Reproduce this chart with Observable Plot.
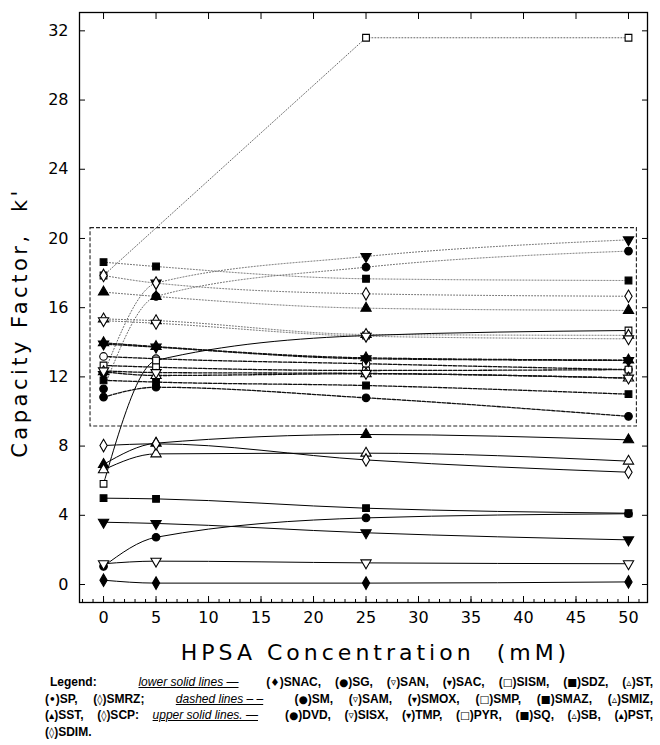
<!DOCTYPE html>
<html><head><meta charset="utf-8">
<script src="https://cdn.jsdelivr.net/npm/d3@7"></script>
<script src="https://cdn.jsdelivr.net/npm/@observablehq/plot@0.6"></script>
<style>
body{margin:0;background:#fff;width:660px;height:745px;overflow:hidden;position:relative;font-family:"DejaVu Sans",sans-serif}
#chart{position:absolute;left:0;top:0}
#legend{position:absolute;left:45px;top:674px;width:608px;font-family:"Liberation Sans","DejaVu Sans",Arial,sans-serif;font-weight:bold;font-size:12px;line-height:16.6px;color:#000}
#legend .j{text-align:justify;text-align-last:justify;text-justify:inter-word;white-space:nowrap}
#legend .u{display:inline-block;font-style:italic;font-weight:normal;text-decoration:underline}
#legend .p{display:inline-block}
#legend .s{font-family:"DejaVu Sans",sans-serif;font-weight:bold;font-size:10.5px}
</style></head><body>
<div id="chart"></div>
<div id="legend">
<div class="j" style="padding-left:5px">Legend:&nbsp;&nbsp; <span class="u">lower solid lines —</span>&nbsp; <span class="p">(<span class="s">♦</span>)SNAC,</span> <span class="p">(<span class="s">●</span>)SG,</span> <span class="p">(<span class="s">▿</span>)SAN,</span> <span class="p">(<span class="s">▾</span>)SAC,</span> <span class="p">(<span class="s">□</span>)SISM,</span> <span class="p">(<span class="s">■</span>)SDZ,</span> <span class="p">(<span class="s">▵</span>)ST,</span></div>
<div class="j"><span class="p">(<span class="s">•</span>)SP,</span> <span class="p">(<span class="s">◊</span>)SMRZ;</span>&nbsp; <span class="u">dashed lines – –</span>&nbsp; <span class="p">(<span class="s">●</span>)SM,</span> <span class="p">(<span class="s">▿</span>)SAM,</span> <span class="p">(<span class="s">▾</span>)SMOX,</span> <span class="p">(<span class="s">□</span>)SMP,</span> <span class="p">(<span class="s">■</span>)SMAZ,</span> <span class="p">(<span class="s">▵</span>)SMIZ,</span></div>
<div class="j"><span class="p">(<span class="s">▴</span>)SST,</span> <span class="p">(<span class="s">◊</span>)SCP:</span> <span class="u">upper solid lines. —</span>&nbsp; <span class="p">(<span class="s">●</span>)DVD,</span> <span class="p">(<span class="s">▿</span>)SISX,</span> <span class="p">(<span class="s">▾</span>)TMP,</span> <span class="p">(<span class="s">□</span>)PYR,</span> <span class="p">(<span class="s">■</span>)SQ,</span> <span class="p">(<span class="s">▵</span>)SB,</span> <span class="p">(<span class="s">▴</span>)PST,</span></div>
<div><span class="p">(<span class="s">◊</span>)SDIM.</span></div>
</div>
<script>
// ---------- data ----------
const conc = [0, 5, 25, 50];
const xTicks = [0, 5, 10, 15, 20, 25, 30, 35, 40, 45, 50];
const xMinorTicks = d3.range(-2, 52, 1);
const yTicks = [0, 4, 8, 12, 16, 20, 24, 28, 32];
const xLabel = "HPSA Concentration  (mM)";
const yLabel = "Capacity Factor,  k'";
const boxConc = [-1.24, 50.8];
const boxK = [9.13, 20.6];

// lower solid lines
const lowerNames   = ["SNAC", "SG", "SAN", "SAC", "SISM", "SDZ", "ST", "SP", "SMRZ"];
const lowerMarkers = ["◆", "●", "▽", "▼", "□", "■", "△", "▲", "◇"];
const lowerK = [
  [0.25, 0.08, 0.08, 0.15],
  [1.05, 2.73, 3.85, 4.09],
  [1.2, 1.35, 1.25, 1.2],
  [3.6, 3.53, 2.99, 2.58],
  [5.82, 12.95, 14.39, 14.68],
  [4.99, 4.95, 4.41, 4.12],
  [6.63, 7.55, 7.59, 7.13],
  [6.94, 8.17, 8.67, 8.36],
  [8.03, 8.13, 7.2, 6.49]
];

// dashed lines
const dashedNames   = ["SM", "SAM", "SMOX", "SMP", "SMAZ", "SMIZ", "SST", "SCP"];
const dashedMarkers = ["●", "▽", "▼", "□", "■", "△", "▲", "○"];
const dashedK = [
  [10.83, 11.4, 10.79, 9.72],
  [12.35, 12.25, 12.2, 11.93],
  [13.9, 13.72, 13.05, 12.95],
  [12.66, 12.56, 12.37, 12.42],
  [11.8, 11.7, 11.5, 11.0],
  [12.3, 12.08, 12.18, 11.93],
  [13.97, 13.75, 13.1, 12.97],
  [13.18, 13.05, 12.76, 12.42]
];

// upper lines
const upperNames   = ["DVD", "SISX", "TMP", "PYR", "SQ", "SB", "PST", "SDIM"];
const upperMarkers = ["●", "▽", "▼", "□", "■", "△", "▲", "◇"];
const upperK = [
  [11.31, 16.65, 18.34, 19.27],
  [15.25, 15.1, 14.35, 14.2],
  [12.14, 17.42, 18.96, 19.92],
  [17.86, null, 31.6, 31.6],
  [18.63, 18.38, 17.67, 17.57],
  [15.35, 15.25, 14.45, 14.4],
  [16.9, 16.65, 15.97, 15.84],
  [17.86, 17.42, 16.8, 16.66]
];
const straightSeries = ["PYR"];

// ---------- build ----------
function rowsFor(names, markers, values) {
  const rows = [];
  names.forEach((n, i) => values[i].forEach((k, j) => {
    if (k != null) rows.push({name: n, marker: markers[i], x: conc[j], k});
  }));
  return rows;
}
const lowerRows = rowsFor(lowerNames, lowerMarkers, lowerK);
const dashedRows = rowsFor(dashedNames, dashedMarkers, dashedK);
const upperRows = rowsFor(upperNames, upperMarkers, upperK);
const allRows = [...upperRows, ...dashedRows, ...lowerRows];

const triDown = {
  draw(ctx, size) {
    const s3 = Math.sqrt(3);
    const y = -Math.sqrt(size / (s3 * 3));
    ctx.moveTo(0, -y * 2);
    ctx.lineTo(-s3 * y, y);
    ctx.lineTo(s3 * y, y);
    ctx.closePath();
  }
};
const shapes = {
  "●": [d3.symbolCircle, true], "○": [d3.symbolCircle, false],
  "■": [d3.symbolSquare, true], "□": [d3.symbolSquare, false],
  "▲": [d3.symbolTriangle, true], "△": [d3.symbolTriangle, false],
  "▼": [triDown, true], "▽": [triDown, false],
  "◆": [d3.symbolDiamond, true], "◇": [d3.symbolDiamond, false]
};

const dotMarks = Object.keys(shapes).map(m => Plot.dot(allRows.filter(d => d.marker === m), {
  x: "x", y: "k", symbol: shapes[m][0], r: 3.8,
  fill: shapes[m][1] ? "black" : "white", stroke: "black", strokeWidth: 1.1
}));

const noText = () => "";
const chart = Plot.plot({
  width: 660, height: 672,
  marginLeft: 79, marginRight: 13, marginTop: 12, marginBottom: 70,
  style: {fontFamily: "DejaVu Sans, sans-serif", background: "white", color: "black"},
  x: {domain: [-2.29, 51.81]},
  y: {domain: [-1.04, 33.06]},
  marks: [
    Plot.rect([{x1: boxConc[0], x2: boxConc[1], y1: boxK[0], y2: boxK[1]}],
      {x1: "x1", x2: "x2", y1: "y1", y2: "y2", fill: "none", stroke: "#222", strokeWidth: 1.1, strokeDasharray: "4,2"}),
    Plot.line(upperRows.filter(d => !straightSeries.includes(d.name)), {x: "x", y: "k", z: "name", curve: "monotone-x", stroke: "#666", strokeWidth: 1, strokeDasharray: "1,2"}),
    Plot.line(upperRows.filter(d => straightSeries.includes(d.name)), {x: "x", y: "k", z: "name", curve: "linear", stroke: "#666", strokeWidth: 1, strokeDasharray: "1,2"}),
    Plot.line(dashedRows, {x: "x", y: "k", z: "name", curve: "monotone-x", stroke: "#111", strokeWidth: 1.3, strokeDasharray: "3.5,1.5"}),
    Plot.line(lowerRows, {x: "x", y: "k", z: "name", curve: "monotone-x", stroke: "black", strokeWidth: 1}),
    ...dotMarks,
    Plot.frame({stroke: "black", strokeWidth: 1.3}),
    Plot.axisY({ticks: yTicks, anchor: "left", tickSize: 0, tickPadding: 11, fontSize: 16, label: null}),
    Plot.axisY({ticks: yTicks, anchor: "left", tickSize: 6, dx: 6, tickFormat: noText, label: null}),
    Plot.axisY({ticks: yTicks, anchor: "right", tickSize: 6, dx: -6, tickFormat: noText, label: null}),
    Plot.axisX({ticks: xTicks, anchor: "bottom", tickSize: 0, tickPadding: 9, fontSize: 16, label: null}),
    Plot.axisX({ticks: xTicks, anchor: "bottom", tickSize: 6, dy: -6, tickFormat: noText, label: null}),
    Plot.axisX({ticks: xMinorTicks, anchor: "bottom", tickSize: 3, dy: -3, tickFormat: noText, label: null}),
    Plot.axisX({ticks: xTicks, anchor: "top", tickSize: 6, dy: 6, tickFormat: noText, label: null}),
    Plot.text([xLabel], {text: d => d, frameAnchor: "bottom", dx: 12, dy: 57, fontSize: 22, fill: "black"}),
    Plot.text([yLabel], {text: d => d, frameAnchor: "left", textAnchor: "middle", dx: -59, dy: 15, rotate: -90, fontSize: 21, fill: "black"})
  ]
});
d3.select(chart).selectAll("text").filter(function(){ return this.textContent === xLabel; })
  .style("letter-spacing", "4px");
d3.select(chart).selectAll("text").filter(function(){ return this.textContent === yLabel; })
  .style("letter-spacing", "3.5px");
document.getElementById("chart").appendChild(chart);
</script>
</body></html>
